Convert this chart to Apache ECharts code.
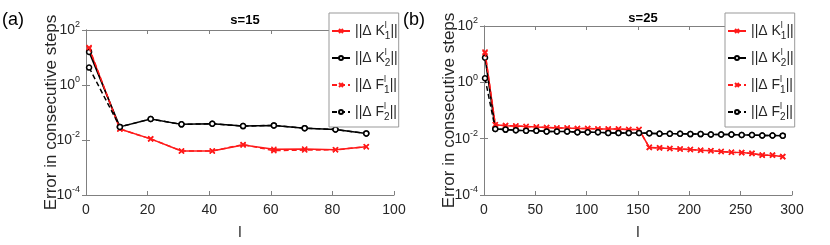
<!DOCTYPE html>
<html>
<head>
<meta charset="utf-8">
<script src="https://cdn.jsdelivr.net/npm/echarts@6/dist/echarts.min.js"></script>
<style>html,body{margin:0;padding:0;background:#fff}#c{width:830px;height:245px}</style>
</head>
<body>
<div id="c"></div>
<script>
// ---- data ----
const leftX  = [1, 11, 21, 31, 41, 51, 61, 71, 81, 91];
const leftK1 = [21, 0.025, 0.011, 0.0040, 0.0040, 0.0066, 0.0046, 0.0047, 0.0044, 0.0057];
const leftK2 = [16, 0.030, 0.058, 0.037, 0.039, 0.032, 0.034, 0.027, 0.024, 0.0174];
const leftF1 = [23, 0.025, 0.011, 0.0040, 0.0040, 0.0068, 0.0041, 0.0043, 0.0044, 0.0057];
const leftF2 = [4.3, 0.030, 0.058, 0.037, 0.039, 0.032, 0.034, 0.027, 0.024, 0.0174];

const rightX  = [1, 11, 21, 31, 41, 51, 61, 71, 81, 91, 101, 111, 121, 131, 141, 151,
                 161, 171, 181, 191, 201, 211, 221, 231, 241, 251, 261, 271, 281, 291];
const rightK1 = [11, 0.031, 0.029, 0.028, 0.027, 0.026, 0.025, 0.024, 0.024, 0.023, 0.023, 0.022, 0.022, 0.022, 0.021, 0.021,
                 0.0049, 0.0047, 0.0045, 0.0043, 0.0041, 0.0039, 0.0037, 0.0035, 0.0033, 0.0032, 0.0030, 0.0026, 0.0026, 0.0023];
const rightF1 = [12, 0.031, 0.029, 0.028, 0.027, 0.026, 0.025, 0.024, 0.024, 0.023, 0.023, 0.022, 0.022, 0.022, 0.021, 0.021,
                 0.0049, 0.0047, 0.0045, 0.0043, 0.0041, 0.0039, 0.0037, 0.0035, 0.0033, 0.0032, 0.0030, 0.0026, 0.0026, 0.0023];
const rightK2 = [7.5, 0.022, 0.021, 0.020, 0.019, 0.019, 0.018, 0.018, 0.018, 0.017, 0.017, 0.017, 0.016, 0.016, 0.016, 0.016,
                 0.0155, 0.015, 0.015, 0.015, 0.0145, 0.0145, 0.014, 0.014, 0.014, 0.0135, 0.0135, 0.013, 0.013, 0.0128];
const rightF2 = [1.4, 0.022, 0.021, 0.020, 0.019, 0.019, 0.018, 0.018, 0.018, 0.017, 0.017, 0.017, 0.016, 0.016, 0.016, 0.016,
                 0.0155, 0.015, 0.015, 0.015, 0.0145, 0.0145, 0.014, 0.014, 0.014, 0.0135, 0.0135, 0.013, 0.013, 0.0128];

const titles = ['s=15', 's=25'];
const panelLabels = ['(a)', '(b)'];
const seriesNames = ['K1', 'K2', 'F1', 'F2'];
const legendLetters = {K1: ['K', '1'], K2: ['K', '2'], F1: ['F', '1'], F2: ['F', '2']};
const yAxisName = 'Error in consecutive steps';
const xAxisName = 'l';

// ---- chart ----
const FONT = 'Liberation Sans, Arial, sans-serif';
const AX = '#808080';
const TXT = '#262626';
const RED = '#ff1a1a';
const crossPath = 'path://M0,0L10,10M10,0L0,10';

function pairs(xs, ys) { return xs.map((x, i) => [x, ys[i]]); }

const grids = [
  {left: 86, top: 30, width: 308, height: 165},
  {left: 484, top: 26, width: 308, height: 172}
];

function yAx(gi, right) {
  return {
    type: 'log', logBase: 10, gridIndex: gi, min: 1e-4, max: 1e2, interval: 2,
    position: right ? 'right' : 'left',
    name: right ? '' : yAxisName, nameLocation: 'middle', nameGap: 26,
    nameMoveOverlap: false,
    nameTextStyle: {fontFamily: FONT, fontSize: 17, color: TXT},
    axisLine: {show: true, lineStyle: {color: AX, width: 1}},
    axisTick: {show: true, inside: true, length: 4, lineStyle: {color: AX}},
    minorTick: {show: false},
    splitLine: {show: false},
    axisLabel: {
      show: !right, fontFamily: FONT, fontSize: 14, color: TXT, margin: 6,
      formatter: v => '10{s|' + Math.round(Math.log10(v)) + '}',
      rich: {s: {fontSize: 9, verticalAlign: 'top', padding: [0, 0, 10, 0], fontFamily: FONT, color: TXT}}
    }
  };
}
function xAx(gi, max, interval, top) {
  return {
    type: 'value', gridIndex: gi, min: 0, max: max, interval: interval,
    position: top ? 'top' : 'bottom',
    name: top ? '' : xAxisName, nameLocation: 'middle', nameGap: 30,
    nameTextStyle: {fontFamily: FONT, fontSize: 15, color: TXT},
    axisLine: {show: true, onZero: false, lineStyle: {color: AX, width: 1}},
    axisTick: {show: true, inside: true, length: 4, lineStyle: {color: AX}},
    splitLine: {show: false},
    axisLabel: {show: !top, fontFamily: FONT, fontSize: 14, color: TXT, margin: 8}
  };
}

function mkSeries(gi, name, xs, ys, isRed, dashed) {
  return {
    type: 'line', name: name, xAxisIndex: gi * 2, yAxisIndex: gi * 2,
    data: pairs(xs, ys),
    symbol: isRed ? crossPath : 'circle',
    symbolSize: 5,
    showAllSymbol: true,
    lineStyle: {color: isRed ? RED : '#000', width: 1.5, type: dashed ? [5, 3] : 'solid'},
    itemStyle: isRed ? {color: RED, borderColor: RED, borderWidth: 1.5}
                     : {color: '#fff', borderColor: '#000', borderWidth: 1.5},
    emphasis: {disabled: true},
    animation: false,
    z: dashed ? 3 : 2
  };
}

function legendFormatter(name) {
  const l = legendLetters[name];
  return '{t|||\u0394 ' + l[0] + '}{sup|l}{sub|' + l[1] + '}{t|||}';
}
function mkLegend(left, top) {
  return {
    data: seriesNames, orient: 'vertical', left: left, top: top,
    backgroundColor: '#fff', borderColor: '#999', borderWidth: 1,
    padding: [8, 1, 5, 2], itemGap: 7, itemWidth: 18, itemHeight: 5,
    selectedMode: false,
    formatter: legendFormatter,
    textStyle: {
      fontFamily: FONT, fontSize: 14, color: TXT,
      rich: {
        t: {fontFamily: FONT, fontSize: 14, color: TXT, lineHeight: 20},
        sup: {fontFamily: FONT, fontSize: 9, color: TXT, width: 0, align: 'left', lineHeight: 10, padding: [0, 0, 10, 0]},
        sub: {fontFamily: FONT, fontSize: 10, color: TXT, lineHeight: 10, padding: [10, 0, 0, 0]}
      }
    }
  };
}

const option = {
  backgroundColor: '#fff',
  animation: false,
  textStyle: {fontFamily: FONT},
  grid: grids.map(g => Object.assign({show: false, containLabel: false}, g)),
  title: [
    {text: titles[0], left: 240, top: 9, textAlign: 'center',
     textStyle: {fontFamily: FONT, fontSize: 13, fontWeight: 'bold', color: '#000'}},
    {text: titles[1], left: 638, top: 7, textAlign: 'center',
     textStyle: {fontFamily: FONT, fontSize: 13, fontWeight: 'bold', color: '#000'}}
  ],
  graphic: [
    {type: 'text', left: 2, top: 11, style: {text: panelLabels[0], font: '18px Liberation Sans', fill: '#000'}},
    {type: 'text', left: 403, top: 11, style: {text: panelLabels[1], font: '18px Liberation Sans', fill: '#000'}}
  ],
  xAxis: [xAx(0, 100, 20, false), xAx(0, 100, 20, true), xAx(1, 300, 50, false), xAx(1, 300, 50, true)],
  yAxis: [yAx(0, false), yAx(0, true), yAx(1, false), yAx(1, true)],
  legend: [mkLegend(329, 13), mkLegend(725, 13)],
  series: [
    mkSeries(0, 'K1', leftX, leftK1, true, false),
    mkSeries(0, 'K2', leftX, leftK2, false, false),
    mkSeries(0, 'F1', leftX, leftF1, true, true),
    mkSeries(0, 'F2', leftX, leftF2, false, true),
    mkSeries(1, 'K1', rightX, rightK1, true, false),
    mkSeries(1, 'K2', rightX, rightK2, false, false),
    mkSeries(1, 'F1', rightX, rightF1, true, true),
    mkSeries(1, 'F2', rightX, rightF2, false, true)
  ]
};
const chart = echarts.init(document.getElementById('c'), null, {renderer: 'canvas'});
chart.setOption(option);
</script>
</body>
</html>
